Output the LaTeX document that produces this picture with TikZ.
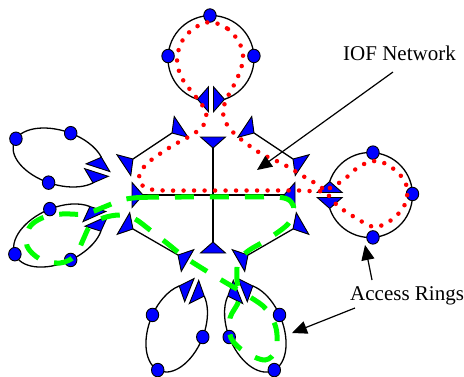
\documentclass[tikz,border=0pt]{standalone}
\usepackage{fontspec}
\setmainfont{Liberation Serif}
\usetikzlibrary{arrows.meta,shapes.geometric}
\newcommand\hubseg[3]{%
  \begin{scope}[shift={(#1)},rotate=#2]
    \draw[hub] (0,0) -- (#3,0);
    \draw[tri] (0,0) -- (-11,-12.5) -- (-11,12.5) -- cycle;
    \draw[tri] (#3,0) -- ({#3+11},-12.5) -- ({#3+11},12.5) -- cycle;
  \end{scope}}
\newcommand\ringshape[8]{%
  \begin{scope}[shift={(#1)},rotate=#2]
    \draw[ring] (#5:#3 and #4) arc[start angle=#5, end angle={360-#5}, x radius=#3, y radius=#4];
    \draw[tri] (#6,13.5) -- ({#6-12.5},2.5) -- ({#6+12.5},2.5) -- cycle;
    \draw[tri] (#6,-13.5) -- ({#6-12.5},-2.5) -- ({#6+12.5},-2.5) -- cycle;
    \foreach \t [count=\i] in {#7} \node[dot] (#8\i) at (\t:#3 and #4) {};
  \end{scope}}
\begin{document}
\begin{tikzpicture}[x=1pt,y=-1pt,
  ring/.style={line width=1.3pt},
  hub/.style={line width=1.3pt},
  tri/.style={draw=black, fill=blue, line width=0.9pt, line join=miter},
  dot/.style={ellipse, draw=black, fill=blue, line width=0.9pt, minimum width=12.5pt, minimum height=13.5pt, inner sep=0pt},
  reddot/.style={draw=red, line width=4.5pt, line cap=round, dash pattern=on 0pt off 10.5pt},
  greendash/.style={draw=green, line width=5pt, dash pattern=on 19pt off 16pt},
  lead/.style={line width=1.2pt, -{Triangle[length=15pt,width=13pt]}},
  lbl/.style={font=\fontsize{21}{25}\selectfont, inner sep=0pt}
]
\useasboundingbox (0,0) rectangle (464,376);

% rings
\ringshape{211,58.5}{-90}{43}{43}{18.3}{40.8}{178.6,93.3,266.6}{top}
\ringshape{370,195}{180}{42.5}{42.5}{18.52}{40.3}{94,178.6,266}{rgt}
\ringshape{58.5,157.5}{-18}{47}{27}{30}{40.7}{190,275,92}{lt}
\ringshape{58,235.5}{24}{47}{27.5}{29.4}{40.95}{181,274,88}{lb}
\ringshape{176.7,328.2}{68}{46}{27.5}{29.4}{40.08}{274,88,184}{bl}
\ringshape{255.3,328.2}{112}{46}{27.5}{29.4}{40.08}{86,272,176}{br}

% hub
\hubseg{133,159}{33.69}{46.87}
\hubseg{293,159}{146.31}{46.87}
\hubseg{143,195}{0}{141}
\hubseg{213,148}{-90}{94}
\hubseg{133,229}{-30.02}{51.97}
\hubseg{293,229}{-149.98}{51.97}

% green access path
\draw[greendash] plot[smooth cycle, tension=0.55] coordinates {
 (122,200) (140,197.5) (180,197) (240,197) (275,197) (289,200) (294,210) (288,224)
 (268,239) (248,251) (238,262) (237,280) (239,300) (230,318) (231,338) (245,352)
 (265,360) (276,350) (276,328) (266,309) (250,297) (218,278) (200,267) (183,256)
 (168,244) (150,230) (135,219) (120,215) (103,218) (90,226) (83,240) (75,256)
 (60,263) (40,259) (27,246) (29,228) (42,218) (62,214) (85,214) (104,207)};

% red IOF path
\draw[reddot] plot[smooth cycle, tension=0.55] coordinates {
 (210,22) (228,29) (240,44) (243,60) (237,79) (228,96) (223,110) (226,123)
 (237,136) (260,153) (283,164) (303,176) (322,188) (337,205) (356,218) (375,227)
 (394,218) (406,202) (406,184) (395,170) (378,161) (360,166) (342,181) (322,191)
 (300,190.5) (250,190.5) (200,190.5) (155,190) (141,184) (140,173) (150,161)
 (172,146) (190,136) (203,126) (206,112) (196,97) (183,80) (177,62) (181,43) (193,29)};

% labels and leaders
\node[lbl, anchor=base west] (iof) at (343,60.5) {IOF Network};
\node[lbl, anchor=base west] (acc) at (350,300) {Access Rings};
\coordinate (iofs) at (393,72);
\coordinate (ioft) at (257,170);
\coordinate (acca) at (372,280);
\coordinate (accat) at (365,245);
\coordinate (accb) at (355,308);
\coordinate (accbt) at (292,333);
\draw[lead] (iofs) -- (ioft);
\draw[lead] (acca) -- (accat);
\draw[lead] (accb) -- (accbt);
\end{tikzpicture}
\end{document}
